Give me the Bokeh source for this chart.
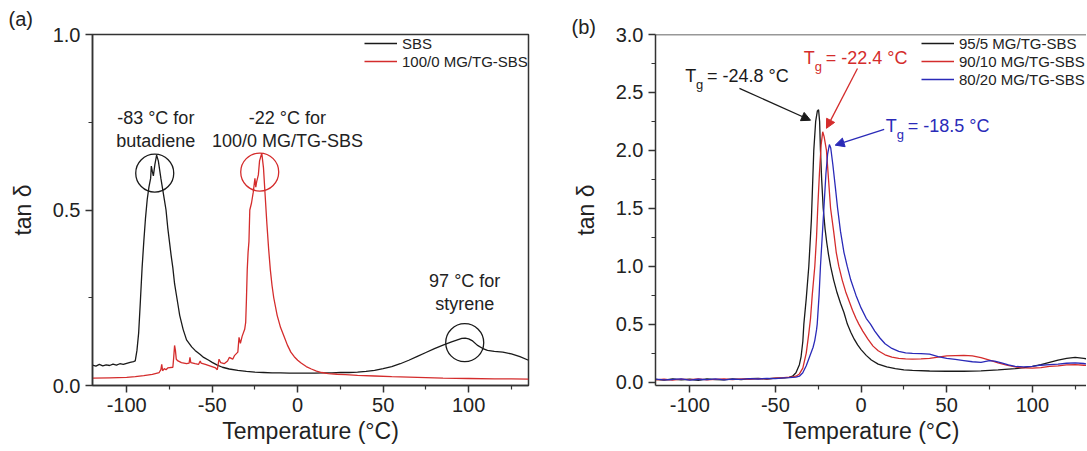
from bokeh.plotting import figure
from bokeh.layouts import row
from bokeh.models import (Range1d, FixedTicker, PrintfTickFormatter, Legend, LegendItem,
                          Label, Arrow, NormalHead, Span, Title)
from bokeh.embed import file_html
from bokeh.resources import INLINE

FONT = "Liberation Sans"
BLACK = "#1a1a1a"
RED = "#d42c2c"
BLUE = "#2a2ab8"

# ---------------- Panel (a) data ----------------
sbs_temp = [-120, -118, -116, -114, -112, -110, -108, -106, -104, -102,
            -100, -98, -96, -95, -94, -93, -92, -91, -90, -89,
            -88, -87, -86, -85.6, -85, -84.4, -83.5, -82.5, -81.5, -80,
            -79, -78, -77, -76, -75, -74, -73, -72, -71, -70,
            -69, -68, -67, -66, -65, -62, -60, -57, -55, -52,
            -50, -47, -44, -40, -35, -30, -25, -20, -15, -10,
            -5, 0, 5, 10, 15, 20, 25, 30, 35, 40,
            45, 50, 55, 60, 65, 70, 75, 80, 85, 90,
            93, 96, 98, 100, 102, 105, 108, 111, 115, 120,
            125, 130, 135]
sbs_tan = [.058, .055, .060, .056, .059, .057, .061, .058, .062, .060,
           .063, .066, .068, .070, .10, .15, .24, .335, .41, .477,
           .53, .565, .59, .625, .61, .597, .63, .656, .64, .59,
           .56, .53, .50, .45, .41, .37, .335, .29, .26, .23,
           .20, .18, .16, .145, .13, .11, .10, .088, .08, .072,
           .066, .058, .052, .047, .043, .040, .038, .037, .036, .036,
           .035, .035, .035, .035, .036, .036, .037, .037, .038, .040,
           .043, .048, .054, .062, .072, .083, .094, .105, .115, .124,
           .129, .134, .135, .133, .128, .115, .106, .100, .097, .095,
           .090, .082, .072]

mg100_temp = [-120, -110, -100, -95, -90, -85, -81, -80, -79.5, -79,
              -78, -77, -76, -73, -72.5, -72, -71.5, -71, -70, -68,
              -65, -63.5, -63, -62.5, -60, -58, -57, -56.5, -54, -51,
              -48, -47, -46, -45, -43, -41, -40, -38, -37, -35,
              -34.3, -33.5, -32.5, -31, -30.4, -30, -29.5, -29, -28.5, -28,
              -27, -26, -25, -24.5, -24, -23, -22.3, -21, -20, -19,
              -18, -17, -16, -15, -14, -12, -10, -8, -6, -4,
              -2, 0, 2, 5, 8, 11, 14, 18, 23, 28,
              35, 45, 55, 70, 85, 100, 115, 125, 135]
mg100_tan = [.021, .022, .023, .025, .028, .032, .037, .045, .06, .042,
             .048, .045, .05, .052, .08, .114, .10, .075, .07, .065,
             .062, .064, .08, .065, .062, .06, .07, .064, .06, .055,
             .05, .045, .075, .065, .062, .07, .08, .075, .085, .095,
             .137, .12, .14, .16, .18, .24, .33, .38, .41, .50,
             .52, .55, .59, .565, .58, .60, .64, .662, .62, .54,
             .46, .39, .33, .285, .25, .20, .165, .14, .115, .095,
             .082, .072, .064, .054, .047, .041, .037, .034, .032, .031,
             .029, .027, .025, .023, .021, .020, .019, .019, .018]

a_labels = ["SBS", "100/0 MG/TG-SBS"]

# peak markers (circles) and their notes in panel (a)
circle_x = [-83.6, -22.2, 97.7]
circle_y = [0.605, 0.608, 0.122]
circle_col = [BLACK, RED, BLACK]
note_x = [-83, -83, -6, -6, 97.7, 97.7]
note_y = [0.761, 0.696, 0.761, 0.696, 0.298, 0.233]
note_text = ["-83 °C for", "butadiene", "-22 °C for", "100/0 MG/TG-SBS", "97 °C for", "styrene"]

# ---------------- Panel (b) data ----------------
b95_temp = [-120, -115, -110, -105, -100, -95, -90, -85, -80, -75,
            -70, -65, -60, -55, -50, -45, -42, -40, -38, -36,
            -35, -34, -33.4, -32, -30.5, -29, -27.6, -26.5, -25.5, -24.8,
            -24.2, -23.7, -23, -22.1, -21, -20, -19, -17.8, -16, -14,
            -12, -10, -8, -6, -4, -2, 0, 3, 6, 10,
            15, 20, 25, 30, 40, 50, 60, 70, 80, 90,
            95, 100, 105, 110, 115, 120, 125, 130, 135]
b95_tan = [.022, .016, .026, .018, .024, .015, .027, .020, .018, .028,
           .021, .029, .031, .026, .033, .035, .04, .05, .08, .15,
           .22, .35, .5, .72, 1.0, 1.4, 2.0, 2.25, 2.34, 2.35,
           2.25, 2.0, 1.75, 1.5, 1.32, 1.2, 1.1, 1.0, .88, .77,
           .68, .6, .5, .43, .37, .32, .28, .23, .19, .155,
           .13, .115, .105, .1, .095, .093, .093, .097, .105, .115,
           .125, .135, .15, .17, .19, .205, .212, .205, .19]

b90_temp = [-120, -115, -110, -105, -100, -95, -90, -85, -80, -75,
            -70, -65, -60, -55, -50, -45, -42, -40, -38, -36,
            -34, -32, -30.5, -29.5, -28.5, -27, -26, -25.3, -24.3, -23.3,
            -22.4, -21.6, -20.2, -19, -17.8, -16, -14.5, -13, -11, -9,
            -7, -5, -3, -1.3, 1, 4, 7, 10, 14, 18,
            22, 26, 30, 35, 40, 45, 50, 55, 60, 65,
            70, 75, 80, 85, 90, 95, 100, 105, 110, 115,
            120, 125, 130, 135]
b90_tan = [.018, .024, .017, .025, .020, .027, .019, .023, .026, .020,
           .028, .024, .030, .027, .034, .038, .042, .045, .05, .07,
           .12, .25, .42, .55, .75, 1.0, 1.25, 1.5, 1.8, 2.05,
           2.16, 2.12, 2.0, 1.75, 1.5, 1.3, 1.12, 1.0, .88, .78,
           .7, .62, .55, .5, .44, .37, .31, .27, .235, .215,
           .205, .2, .198, .2, .205, .215, .225, .228, .23, .225,
           .21, .19, .165, .145, .13, .122, .12, .125, .135, .14,
           .148, .15, .145, .14]

b80_temp = [-120, -115, -110, -105, -100, -95, -90, -85, -80, -75,
            -70, -65, -60, -55, -50, -45, -42, -40, -38, -36,
            -34, -32, -30, -28, -27, -26, -25.6, -24.5, -23.7, -22.7,
            -21.7, -20.5, -19.5, -18.5, -17.7, -16.5, -15, -13.7, -12, -10,
            -8.1, -6, -3, 0, 3, 5.5, 8, 11, 14, 18,
            22, 26, 30, 35, 40, 45, 50, 55, 60, 65,
            70, 75, 78, 82, 86, 90, 95, 100, 105, 110,
            115, 120, 125, 130, 135]
b80_tan = [.025, .019, .022, .028, .017, .024, .021, .027, .019, .025,
           .023, .030, .026, .032, .030, .036, .038, .04, .042, .05,
           .08, .14, .22, .3, .36, .45, .5, .75, 1.0, 1.25,
           1.5, 1.8, 1.97, 2.05, 2.02, 1.88, 1.68, 1.5, 1.3, 1.12,
           1.0, .88, .75, .64, .55, .5, .44, .38, .33, .29,
           .265, .252, .248, .245, .24, .22, .205, .195, .185, .175,
           .17, .185, .18, .165, .148, .135, .13, .135, .145, .15,
           .155, .162, .165, .16, .15]

b_labels = ["95/5 MG/TG-SBS", "90/10 MG/TG-SBS", "80/20 MG/TG-SBS"]

# Tg notes in panel (b)
tg_T_x = [-102.7, -33.4, 14.45]
tg_g_x = [-96.3, -27.0, 20.9]
tg_rest_x = [-89.9, -20.6, 27.3]
tg_y = [2.64, 2.796, 2.208]
tg_g_y = [2.572, 2.725, 2.137]
tg_text = ["= -24.8 °C", "= -22.4 °C", "= -18.5 °C"]
tg_col = [BLACK, RED, BLUE]
arrow_x0 = [-71.0, -2.1, 13.5]
arrow_y0 = [2.535, 2.707, 2.18]
arrow_x1 = [-29.5, -20.2, -15.1]
arrow_y1 = [2.26, 2.19, 2.045]

x_major = [-100, -50, 0, 50, 100]
x_minor = [-125, -75, -25, 25, 75, 125]


def style(p, yticks, yminor):
    p.xaxis.ticker = FixedTicker(ticks=x_major, minor_ticks=x_minor)
    p.yaxis.ticker = FixedTicker(ticks=yticks, minor_ticks=yminor)
    p.xaxis.formatter = PrintfTickFormatter(format="%d")
    p.yaxis.formatter = PrintfTickFormatter(format="%.1f")
    for ax in (p.xaxis[0], p.yaxis[0]):
        ax.axis_line_color = "#333333"
        ax.axis_line_width = 1.5
        ax.major_tick_line_color = "#333333"
        ax.major_tick_line_width = 1.5
        ax.minor_tick_line_color = "#333333"
        ax.minor_tick_line_width = 1.2
        ax.major_tick_out = 7
        ax.major_tick_in = 0
        ax.minor_tick_out = 4
        ax.minor_tick_in = 0
        ax.major_label_text_font = FONT
        ax.major_label_text_font_size = "20px"
        ax.major_label_text_color = "#222222"
        ax.major_label_standoff = 5
        ax.axis_label_text_font = FONT
        ax.axis_label_text_font_size = "23px"
        ax.axis_label_text_font_style = "normal"
        ax.axis_label_text_color = "#222222"
    p.xaxis.axis_label_standoff = 3
    p.yaxis.axis_label_standoff = 14
    p.grid.visible = False
    p.background_fill_color = "white"
    p.border_fill_color = "white"


def make_legend(items, loc):
    lg = Legend(items=items, location=loc)
    lg.border_line_color = None
    lg.background_fill_alpha = 0
    lg.padding = 0
    lg.margin = 0
    lg.spacing = 0
    lg.glyph_width = 33
    lg.glyph_height = 18
    lg.label_height = 18
    lg.label_standoff = 5
    lg.label_text_font = FONT
    lg.label_text_font_size = "15px"
    lg.label_text_color = "#222222"
    return lg


# ---------------- Figure (a) ----------------
pa = figure(width=540, height=450, x_range=Range1d(-120, 135), y_range=Range1d(0, 1.0),
            min_border_left=92, min_border_right=12, min_border_top=33, min_border_bottom=65,
            output_backend="svg", toolbar_location=None,
            x_axis_label="Temperature (°C)", y_axis_label="tan δ")
style(pa, [0, 0.5, 1.0], [0.25, 0.75])
pa.outline_line_color = "#333333"
pa.outline_line_width = 1.5
pa.add_layout(Title(text="(a)", align="left", offset=-84, standoff=10,
                    text_font=FONT, text_font_size="20px", text_font_style="normal",
                    text_color="#222222"), "above")

ra1 = pa.line(sbs_temp, sbs_tan, line_color=BLACK, line_width=1.3)
ra2 = pa.line(mg100_temp, mg100_tan, line_color=RED, line_width=1.3)
pa.scatter(circle_x, circle_y, size=38, marker="circle", fill_color=None,
           line_color=circle_col, line_width=1.3)
for tx, ty, tt in zip(note_x, note_y, note_text):
    pa.add_layout(Label(x=tx, y=ty, text=tt, text_align="center", text_baseline="middle",
                        text_font=FONT, text_font_size="18px", text_color="#222222"))
pa.add_layout(make_legend([LegendItem(label=a_labels[0], renderers=[ra1]),
                           LegendItem(label=a_labels[1], renderers=[ra2])], (272, 315)))

# ---------------- Figure (b) ----------------
pb = figure(width=546, height=450, x_range=Range1d(-120, 131.6), y_range=Range1d(-0.03, 3.0),
            min_border_left=115, min_border_right=0, min_border_top=33, min_border_bottom=65,
            output_backend="svg", toolbar_location=None,
            x_axis_label="Temperature (°C)", y_axis_label="tan δ")
style(pb, [0, 0.5, 1.0, 1.5, 2.0, 2.5, 3.0], [0.25, 0.75, 1.25, 1.75, 2.25, 2.75])
pb.outline_line_color = None
pb.add_layout(Span(location=3.0, dimension="width", line_color="#333333", line_width=1.5))
pb.add_layout(Title(text="(b)", align="left", offset=-84, standoff=-7,
                    text_font=FONT, text_font_size="20px", text_font_style="normal",
                    text_color="#222222"), "above")

rb1 = pb.line(b95_temp, b95_tan, line_color=BLACK, line_width=1.3)
rb2 = pb.line(b90_temp, b90_tan, line_color=RED, line_width=1.3)
rb3 = pb.line(b80_temp, b80_tan, line_color=BLUE, line_width=1.3)
pb.add_layout(make_legend([LegendItem(label=b_labels[0], renderers=[rb1]),
                           LegendItem(label=b_labels[1], renderers=[rb2]),
                           LegendItem(label=b_labels[2], renderers=[rb3])], (266, 297)))

for i in range(3):
    c = tg_col[i]
    pb.add_layout(Label(x=tg_T_x[i], y=tg_y[i], text="T", text_align="left", text_baseline="middle",
                        text_font=FONT, text_font_size="18px", text_color=c))
    pb.add_layout(Label(x=tg_g_x[i], y=tg_g_y[i], text="g", text_align="left", text_baseline="middle",
                        text_font=FONT, text_font_size="13px", text_color=c))
    pb.add_layout(Label(x=tg_rest_x[i], y=tg_y[i], text=tg_text[i], text_align="left",
                        text_baseline="middle", text_font=FONT, text_font_size="18px", text_color=c))
    pb.add_layout(Arrow(x_start=arrow_x0[i], y_start=arrow_y0[i], x_end=arrow_x1[i], y_end=arrow_y1[i],
                        line_color=c, line_width=1.3,
                        end=NormalHead(size=9, fill_color=c, line_color=c, line_width=1)))

layout = row(pa, pb)
open("out.html", "w").write(file_html(layout, INLINE))
